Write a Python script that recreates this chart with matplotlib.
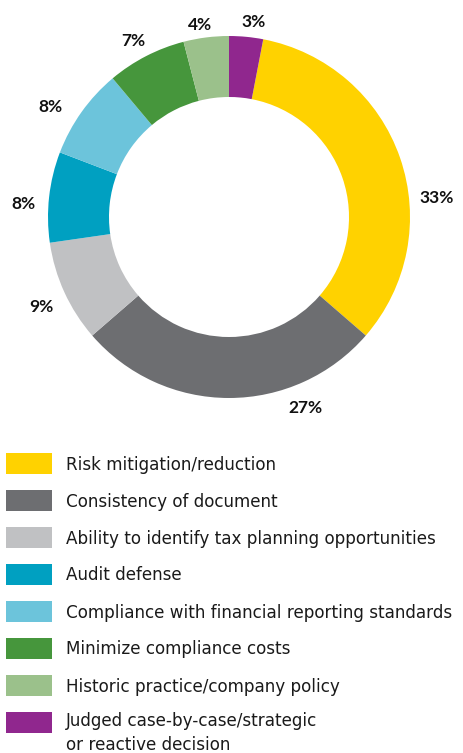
import matplotlib

matplotlib.use("Agg")

import matplotlib.pyplot as plt  # noqa: E402
from matplotlib.patches import Rectangle  # noqa: E402

CATEGORIES = [
    "Risk mitigation/reduction",
    "Consistency of document",
    "Ability to identify tax planning opportunities",
    "Audit defense",
    "Compliance with financial reporting standards",
    "Minimize compliance costs",
    "Historic practice/company policy",
    "Judged case-by-case/strategic\nor reactive decision",
]
SHARES = [33, 27, 9, 8, 8, 7, 4, 3]
COLORS = ["#FFD200", "#6D6E71", "#C0C1C3", "#00A0C1",
          "#6CC4DB", "#46963C", "#9BC18B", "#90278E"]
# where each percentage label sits, in units of the outer radius (layout only)
LABEL_XY = [(1.149, 0.110), (0.420, -1.052), (-1.036, -0.492), (-1.135, 0.080),
            (-0.986, 0.613), (-0.530, 0.978), (-0.160, 1.069), (0.135, 1.083)]

plt.rcParams["font.family"] = ["DejaVu Sans"]

W, H, DPI = 464, 753, 100
fig = plt.figure(figsize=(W / DPI, H / DPI), dpi=DPI)

# ---------------------------------------------------------------- donut
cx, cy, r_px = 229, 217, 181
lim = 1.25
side = 2 * lim * r_px
ax = fig.add_axes([(cx - side / 2) / W, (H - cy - side / 2) / H, side / W, side / H])
start = 90 - 360 * SHARES[-1] / sum(SHARES)
wedges, _ = ax.pie(SHARES, colors=COLORS, startangle=start, counterclock=False,
                   radius=1.0, wedgeprops=dict(width=0.337, linewidth=0))
cap = 6 / r_px  # half cap height of the label font, in radius units
for (lx, ly), val in zip(LABEL_XY, SHARES):
    ax.text(lx, ly - cap, f"{val}%", ha="center", va="baseline",
            fontsize=12.5, fontweight="bold", color="#111111",
            family=["Lato", "DejaVu Sans"])
ax.set_xlim(-lim, lim)
ax.set_ylim(-lim, lim)
ax.set_aspect("equal")
ax.axis("off")

# ---------------------------------------------------------------- legend
lg = fig.add_axes([0, 0, 1, 1])
lg.set_xlim(0, W)
lg.set_ylim(H, 0)
lg.axis("off")
pitch = 22
for i, (lab, col) in enumerate(zip(CATEGORIES, COLORS)):
    top = 453 + i * 37
    extra = lab.count("\n") * pitch  # baseline goes to the last line
    lg.add_patch(Rectangle((6, top), 46, 21, color=col, lw=0))
    lg.text(66, top + 10.5 + 6 + extra, lab, ha="left", va="baseline",
            fontsize=12.1, color="#1a1a1a", linespacing=1.5)

fig.savefig("out.png", dpi=DPI)
